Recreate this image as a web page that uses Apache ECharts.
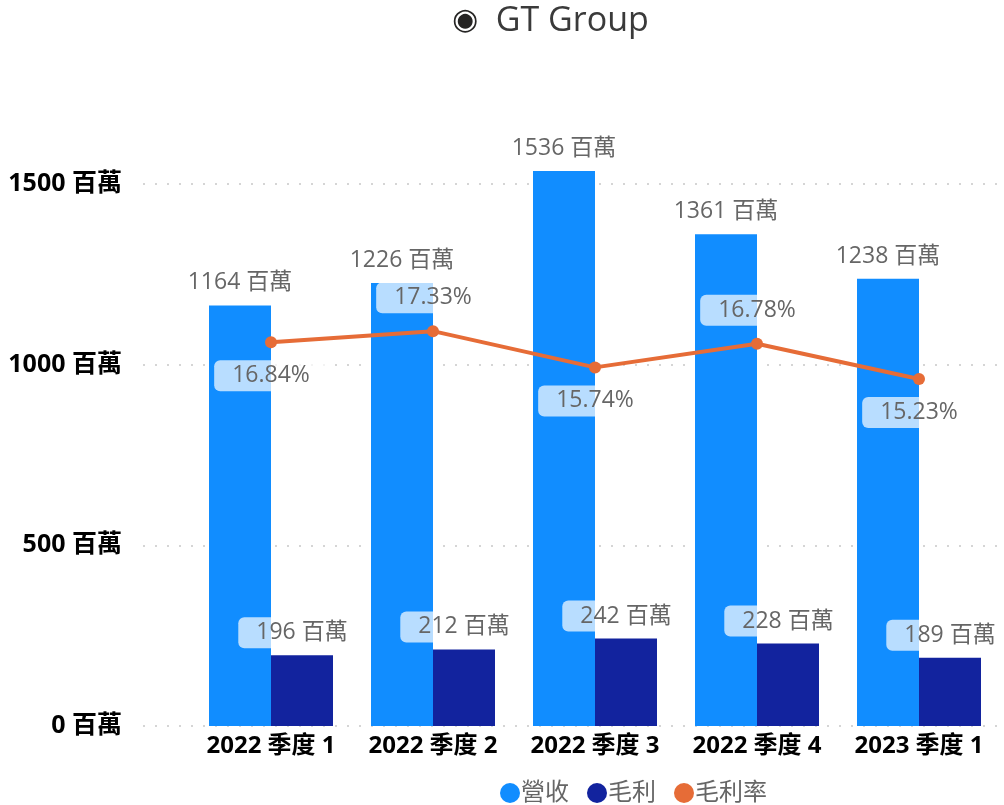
<!DOCTYPE html>
<html>
<head>
<meta charset="utf-8">
<script src="https://cdn.jsdelivr.net/npm/echarts@6/dist/echarts.min.js"></script>
<style>
  html, body { margin: 0; padding: 0; background: #fff; }
  #chart { width: 1004px; height: 805px; }
</style>
</head>
<body>
<div id="chart"></div>
<script>
// 數據
const quarters = ['2022 季度 1', '2022 季度 2', '2022 季度 3', '2022 季度 4', '2023 季度 1']
const revenue = [1164, 1226, 1536, 1361, 1238] // 營收 (百萬)
const grossProfit = [196, 212, 242, 228, 189] // 毛利 (百萬)
const marginRate = [16.84, 17.33, 15.74, 16.78, 15.23] // 毛利率 (%)
const ratePos = ['bottom', 'top', 'bottom', 'top', 'bottom']
const yTicks = [0, 500, 1000, 1500]

const FONT = '"Open Sans", "Noto Sans CJK TC", sans-serif'
const colors = ['#118DFF', '#12239E', '#E66C37']

// 標籤樣式：半透明白色底框
const boxLabel = {
  show: true,
  color: '#666666',
  fontSize: 23,
  fontFamily: FONT,
  backgroundColor: 'rgba(255,255,255,0.7)',
  borderRadius: 6,
  padding: [4, 18],
}

const chart = echarts.init(document.getElementById('chart'))
const option = {
  animation: false,
  color: colors,
  title: {
    text: '{i|◉}  GT Group',
    left: 447,
    top: -1,
    textStyle: {
      fontSize: 34,
      fontWeight: 'normal',
      color: '#3a3a3a',
      fontFamily: FONT,
      rich: {
        i: { fontSize: 30, color: '#252423', fontFamily: '"DejaVu Sans"' },
      },
    },
  },
  legend: {
    data: ['營收', '毛利', '毛利率'],
    left: 495,
    top: 776,
    icon: 'circle',
    itemWidth: 20,
    itemHeight: 20,
    itemGap: 18,
    textStyle: { fontSize: 24, color: '#666666', fontFamily: FONT, padding: [0, 0, 0, -4] },
  },
  grid: [
    // 網格線與座標軸文字
    { left: 143, right: 4, top: 171, bottom: 79 },
    // 柱狀圖與折線
    { left: 190, right: 4, top: 171, bottom: 79 },
  ],
  xAxis: [
    { gridIndex: 0, type: 'value', show: false },
    {
      gridIndex: 1,
      type: 'category',
      data: quarters,
      axisLine: { show: false },
      axisTick: { show: false },
      axisLabel: {
        interval: 0,
        hideOverlap: false,
        margin: 8,
        fontSize: 24,
        fontWeight: 'bold',
        color: '#000000',
        fontFamily: FONT,
      },
    },
  ],
  yAxis: [
    {
      gridIndex: 0,
      type: 'value',
      min: 0,
      max: 1536,
      interval: 500,
      axisLine: { show: false },
      axisTick: { show: false },
      axisLabel: {
        margin: 21,
        fontSize: 25,
        fontWeight: 'bold',
        color: '#000000',
        fontFamily: FONT,
        showMaxLabel: false,
        formatter: v => (yTicks.indexOf(v) >= 0 ? v + ' 百萬' : ''),
      },
      splitLine: {
        show: true,
        showMaxLine: false,
        lineStyle: { color: '#c8c8c8', width: 1.5, type: [2, 10] },
      },
    },
    { gridIndex: 1, type: 'value', min: 0, max: 1536, show: false, splitLine: { show: false } },
    { gridIndex: 1, type: 'value', min: 0, max: 24.36, show: false, splitLine: { show: false } },
  ],
  series: [
    {
      name: '營收',
      type: 'bar',
      xAxisIndex: 1,
      yAxisIndex: 1,
      data: revenue,
      barWidth: 62,
      barGap: '0%',
      label: Object.assign({}, boxLabel, { position: 'top', distance: 7, formatter: '{c} 百萬' }),
    },
    {
      name: '毛利',
      type: 'bar',
      xAxisIndex: 1,
      yAxisIndex: 1,
      data: grossProfit,
      barWidth: 62,
      barGap: '0%',
      label: Object.assign({}, boxLabel, { position: 'top', distance: 7, formatter: '{c} 百萬' }),
    },
    {
      name: '毛利率',
      type: 'line',
      xAxisIndex: 1,
      yAxisIndex: 2,
      data: marginRate.map((v, i) => ({
        value: v,
        label: Object.assign({}, boxLabel, { position: ratePos[i], distance: 12, formatter: '{c}%' }),
      })),
      symbol: 'circle',
      symbolSize: 12,
      lineStyle: { width: 4 },
      z: 5,
    },
  ],
}
chart.setOption(option)
</script>
</body>
</html>
